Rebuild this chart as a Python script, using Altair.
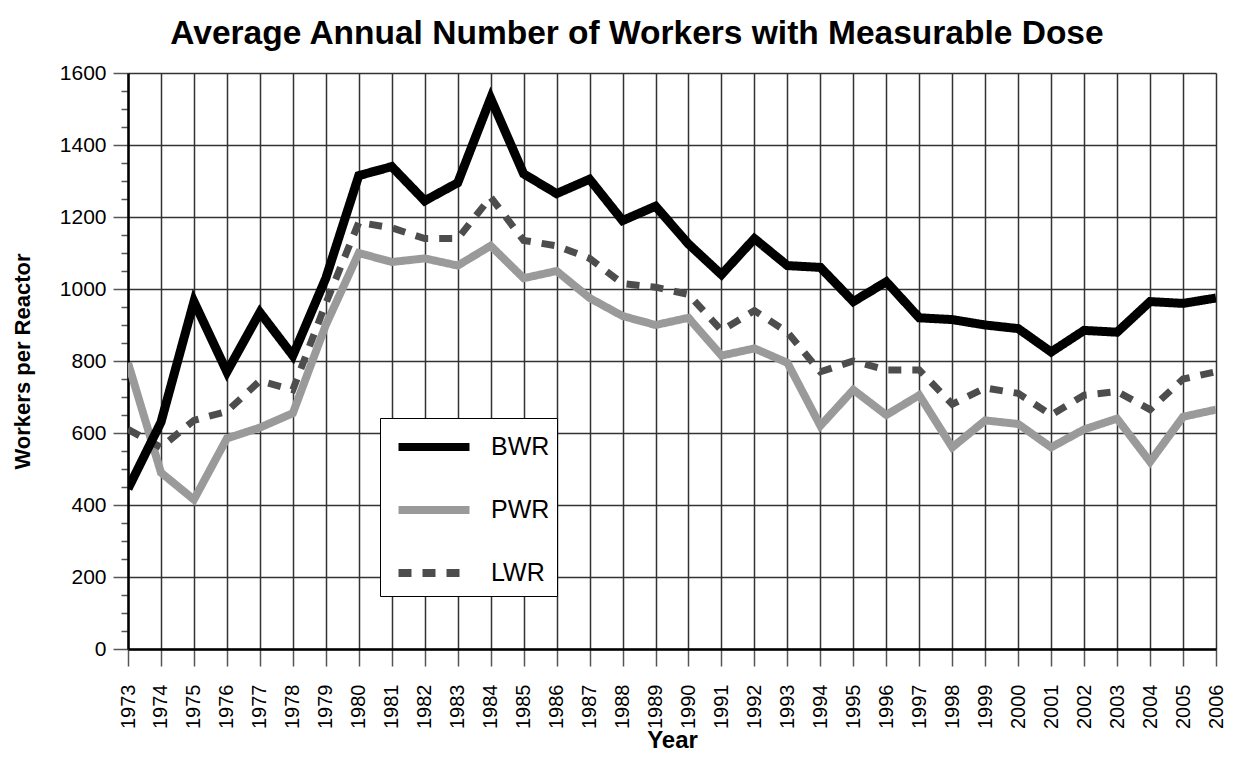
import altair as alt
import pandas as pd

years = list(range(1973, 2007))
bwr = [445, 630, 965, 770, 935, 815, 1030, 1315, 1340, 1245, 1295, 1530, 1320, 1265,
       1305, 1190, 1230, 1125, 1040, 1140, 1065, 1060, 965, 1020, 920, 915, 900, 890,
       825, 885, 880, 965, 960, 975]
pwr = [795, 490, 415, 585, 615, 655, 900, 1100, 1075, 1085, 1065, 1120, 1030, 1050,
       975, 925, 900, 920, 815, 835, 795, 620, 720, 650, 705, 560, 635, 625,
       560, 610, 640, 520, 645, 665]
lwr = [610, 560, 635, 660, 745, 720, 960, 1185, 1170, 1140, 1140, 1255, 1135, 1120,
       1085, 1015, 1005, 985, 885, 940, 880, 770, 800, 775, 775, 680, 725, 710,
       650, 705, 715, 665, 750, 770]
series_names = ["BWR", "PWR", "LWR"]
line_widths = {"BWR": 9, "PWR": 8, "LWR": 7}

rows = []
for name, vals in zip(series_names, [bwr, pwr, lwr]):
    for y, v in zip(years, vals):
        rows.append({"Year": y, "Workers": v, "Type": name})
df = pd.DataFrame(rows)

FONT = "Liberation Sans"

legend = alt.Legend(title=None, orient="none", legendX=252, legendY=345,
                    symbolType="M-2,0H2", symbolSize=1260, symbolStrokeWidth=8,
                    symbolOffset=25, labelOffset=35,
                    labelFontSize=25, labelFont=FONT, labelColor="black",
                    rowPadding=25, padding=7,
                    strokeColor="black", fillColor="white", symbolOpacity=1)

color = alt.Color("Type:N",
                  scale=alt.Scale(domain=series_names, range=["#000000", "#9a9a9a", "#4d4d4d"]),
                  legend=legend)
dash = alt.StrokeDash("Type:N",
                      scale=alt.Scale(domain=series_names, range=[[1, 0], [1, 0], [13, 11]]),
                      legend=legend)

x = alt.X("Year:Q",
          scale=alt.Scale(domain=[1973, 2006], nice=False, zero=False),
          axis=alt.Axis(values=years, format="d", labelAngle=270, labelFontSize=20,
                        labelFont=FONT, labelColor="black", labelPadding=18, tickSize=17,
                        tickColor="#555", tickWidth=1.5, grid=True, gridColor="#333",
                        gridWidth=1.5, domainColor="black", domainWidth=2.5,
                        title="Year", titleFont=FONT, titleFontSize=24, titleFontWeight="bold",
                        titleColor="black", titlePadding=0, labelFlush=False, labelOverlap=False))
y = alt.Y("Workers:Q",
          scale=alt.Scale(domain=[0, 1600], nice=False),
          axis=alt.Axis(values=list(range(0, 1601, 50)),
                        labelExpr="datum.value % 200 === 0 ? datum.value : ''",
                        labelFontSize=21, labelFont=FONT, labelColor="black", labelPadding=7,
                        tickSize={"condition": {"test": "datum.value % 200 === 0", "value": 15}, "value": 7},
                        gridOpacity={"condition": {"test": "datum.value % 200 === 0", "value": 1}, "value": 0},
                        tickColor="#555", tickWidth=1.5, grid=True, gridColor="#333",
                        gridWidth=1.5, domainColor="black", domainWidth=2.5,
                        title="Workers per Reactor", titleFont=FONT, titleFontSize=22,
                        titleFontWeight="bold", titleColor="black", titlePadding=25,
                        labelFlush=False, labelOverlap=False))

base = alt.Chart(df)
layers = []
for name in ["PWR", "LWR", "BWR"]:
    layers.append(base.transform_filter(alt.datum.Type == name)
                  .mark_line(strokeCap="butt", strokeJoin="miter", clip=True,
                             strokeWidth=line_widths[name])
                  .encode(x=x, y=y, color=color, strokeDash=dash))

chart = (alt.layer(*layers).properties(
    width=1088, height=576,
    title=alt.TitleParams("Average Annual Number of Workers with Measurable Dose",
                          font=FONT, fontSize=33.5, fontWeight="bold", color="black",
                          anchor="middle", dx=-35, offset=11),
    autosize=alt.AutoSizeParams(type="none"),
    padding={"left": 120, "top": 65, "right": 9, "bottom": 105},
).configure_view(stroke="black", strokeWidth=2.5)
 .configure_legend(strokeWidth=2)
 .configure(background="white"))

chart.save("out.html", embed_options={"renderer": "svg", "actions": False})
